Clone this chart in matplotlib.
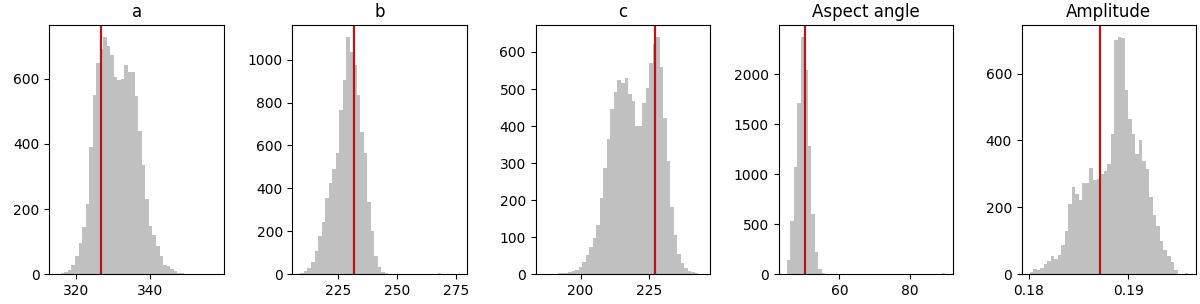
"""Posterior histograms of the shape-model parameters, with the reference value
drawn as a red line in each panel."""
import matplotlib
matplotlib.use("Agg")
import matplotlib.pyplot as plt
import numpy as np
from matplotlib.ticker import MaxNLocator

TITLES = ["a", "b", "c", "Aspect angle", "Amplitude"]

# bin range (first edge, last edge) and counts per bin
A_RANGE = (315.0, 357.6)
A_COUNTS = [2, 4, 8, 14, 30, 57, 95, 145, 215, 390,
            549, 648, 690, 728, 700, 673, 605, 597, 600, 643,
            620, 620, 546, 439, 335, 232, 148, 119, 87, 56,
            29, 26, 17, 10, 5, 3, 2, 1, 0, 0,
            0, 0, 0, 0, 1]

B_RANGE = (209.1, 276.4)
B_COUNTS = [5, 16, 31, 56, 109, 177, 244, 353, 427, 492,
            566, 766, 903, 1106, 1036, 973, 833, 661, 567, 338,
            200, 83, 36, 9, 5, 0, 2, 1, 0, 0,
            0, 0, 0, 0, 0, 0, 0, 0, 0, 4,
            0, 0, 0, 0, 1]

C_RANGE = (186.4, 244.5)
C_COUNTS = [1, 1, 2, 2, 3, 3, 4, 5, 8, 12,
            21, 34, 51, 75, 98, 134, 206, 288, 365, 446,
            491, 525, 516, 530, 487, 469, 401, 401, 462, 502,
            570, 621, 641, 559, 421, 306, 181, 107, 56, 30,
            18, 9, 5, 3, 2]

D_RANGE = (44.9, 90.1)
D_COUNTS = [138, 530, 1067, 1715, 2372, 2040, 1279, 604, 218, 50,
            8, 0, 0, 0, 0, 0, 0, 0, 0, 0,
            0, 0, 0, 0, 0, 0, 0, 0, 0, 0,
            0, 0, 0, 0, 0, 0, 0, 0, 0, 0,
            0, 0, 0, 0, 10]

E_RANGE = (0.1801, 0.19603)
E_COUNTS = [8, 15, 13, 20, 30, 40, 56, 45, 58, 88,
            130, 209, 261, 241, 221, 274, 274, 319, 283, 286,
            300, 310, 330, 420, 700, 710, 705, 550, 465, 419,
            359, 402, 339, 314, 231, 177, 143, 100, 73, 55,
            36, 13, 2, 0, 3]

# reference ("true") values, the red lines
TRUE_VALUES = [326.7, 231.8, 227.2, 50.1, 0.18720]

RANGES = [A_RANGE, B_RANGE, C_RANGE, D_RANGE, E_RANGE]
COUNTS = [A_COUNTS, B_COUNTS, C_COUNTS, D_COUNTS, E_COUNTS]


def main() -> None:
    fig, axes = plt.subplots(1, 5, figsize=(12, 3.04), dpi=100)
    fig.subplots_adjust(left=0.0412, right=0.9967, bottom=0.0977, top=0.918,
                        wspace=0.394)

    for ax, title, (lo, hi), counts, truth in zip(axes, TITLES, RANGES, COUNTS, TRUE_VALUES):
        counts = np.asarray(counts, dtype=float)
        edges = np.linspace(lo, hi, len(counts) + 1)
        ax.hist(edges[:-1], bins=edges, weights=counts, color="silver")
        ax.axvline(truth, color="#b8141a", lw=1.6)
        ax.set_title(title)
        # the original was drawn larger, so it carries fewer ticks
        ax.xaxis.set_major_locator(MaxNLocator(nbins=3, steps=[1, 2, 2.5, 5, 10]))
        ax.yaxis.set_major_locator(MaxNLocator(nbins=7, steps=[1, 2, 2.5, 5, 10]))

    fig.savefig("out.png", dpi=100)


if __name__ == "__main__":
    main()
